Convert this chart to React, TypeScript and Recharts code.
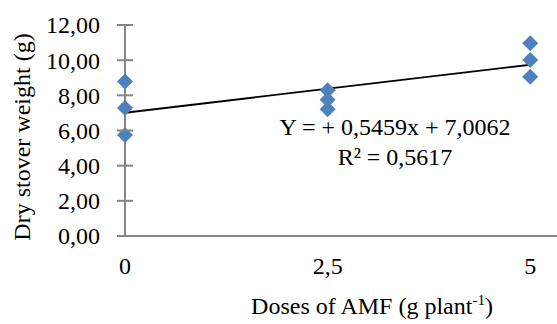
import React from "react";
import {
    ScatterChart,
    Scatter,
    XAxis,
    YAxis,
} from "recharts";

// AMF doses (g plant-1) and dry stover weight (g)
const doses = [0, 0, 0, 2.5, 2.5, 2.5, 5, 5, 5];
const weights = [8.78, 7.28, 5.75, 8.29, 7.75, 7.21, 10.96, 10.01, 9.06];

// linear trend end points (Y = + 0,5459x + 7,0062)
const trendX = [0, 5];
const trendY = [7.01, 9.74];

const xTicks = [0, 2.5, 5];
const yTicks = [0, 2, 4, 6, 8, 10, 12];

const points = doses.map((d, i) => ({ x: d, y: weights[i] }));
const trend = trendX.map((d, i) => ({ x: d, y: trendY[i] }));

const FONT = '"Liberation Serif", "Times New Roman", serif';
const AXIS = "#868686";

const comma = (v: number, digits: number) =>
    v.toFixed(digits).replace(".", ",");

const Diamond = (props: any) => {
    const { cx, cy } = props;
    const r = 8;
    return (
        <polygon
            points={`${cx},${cy - r} ${cx + r},${cy} ${cx},${cy + r} ${cx - r},${cy}`}
            fill="#4f81bd"
        />
    );
};

// x here is the outer end of the tick (axis x - 8); tick crosses the axis
const YTick = (props: any) => {
    const { x, y, payload } = props;
    return (
        <g>
            <path d={`M${x},${y}H${x + 16}`} stroke={AXIS} strokeWidth={2} fill="none" />
            <text
                x={x - 17}
                y={y}
                dy="0.35em"
                textAnchor="end"
                fontFamily={FONT}
                fontSize={24}
                fill="#000"
            >
                {comma(payload.value, 2)}
            </text>
        </g>
    );
};

const XTick = (props: any) => {
    const { x, y, payload } = props;
    const v = payload.value;
    return (
        <text
            x={x}
            y={y}
            textAnchor="middle"
            fontFamily={FONT}
            fontSize={24}
            fill="#000"
        >
            {v === 0 || v === 5 ? String(v) : comma(v, 1)}
        </text>
    );
};

const YTitle = () => (
    <text
        x={30}
        y={137}
        transform="rotate(-90 30 137)"
        textAnchor="middle"
        fontFamily={FONT}
        fontSize={24}
        fill="#000"
    >
        Dry stover weight (g)
    </text>
);

const XTitle = () => (
    <text
        x={372}
        y={314}
        textAnchor="middle"
        fontFamily={FONT}
        fontSize={24}
        fill="#000"
    >
        Doses of AMF (g plant
        <tspan dy={-9} fontSize={15}>-1</tspan>
        <tspan dy={9}>)</tspan>
    </text>
);

export default function App() {
    return (
        <div style={{ position: "fixed", left: 0, top: 0, width: 557, height: 324, background: "#fff" }}>
            <ScatterChart
                width={557}
                height={324}
                margin={{ top: 25, right: 0, bottom: 0, left: 0 }}
            >
                <XAxis
                    type="number"
                    dataKey="x"
                    domain={[0, 5.33]}
                    ticks={xTicks}
                    height={88}
                    axisLine={{ stroke: AXIS, strokeWidth: 2 }}
                    tickLine={false}
                    tickSize={0}
                    tickMargin={38}
                    tick={<XTick />}
                    label={<XTitle />}
                />
                <YAxis
                    type="number"
                    dataKey="y"
                    domain={[0, 12]}
                    ticks={yTicks}
                    width={125}
                    axisLine={{ stroke: AXIS, strokeWidth: 2 }}
                    tickLine={false}
                    tickSize={8}
                    tickMargin={0}
                    tick={<YTick />}
                    label={<YTitle />}
                />
                <Scatter
                    data={trend}
                    line={{ stroke: "#000", strokeWidth: 1.8 }}
                    lineType="joint"
                    shape={() => <g />}
                    isAnimationActive={false}
                />
                <Scatter
                    data={points}
                    shape={<Diamond />}
                    isAnimationActive={false}
                />
            </ScatterChart>
            <div
                style={{
                    position: "absolute",
                    left: 245,
                    top: 112,
                    width: 300,
                    textAlign: "center",
                    fontFamily: FONT,
                    fontSize: 24,
                    lineHeight: "30px",
                    color: "#000",
                }}
            >
                <div>Y = + 0,5459x + 7,0062</div>
                <div>R² = 0,5617</div>
            </div>
        </div>
    );
}
